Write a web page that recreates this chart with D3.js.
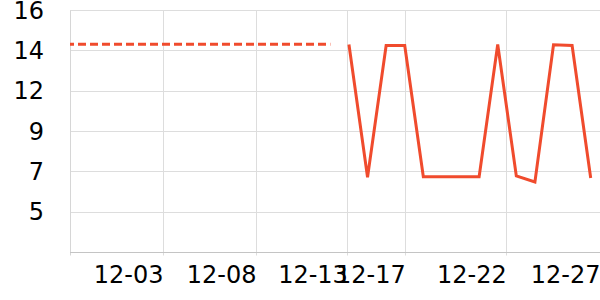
<!doctype html>
<html>
  <head>
    <style>
      body { margin: 0; background: #fff; }
      text { font-family: "DejaVu Sans", sans-serif; }
    </style>
  </head>
  <body>
    <svg width="600" height="300" id="chart"></svg>

    <script src="https://cdnjs.cloudflare.com/ajax/libs/d3/7.8.5/d3.min.js"></script>
    <script>
      // dashed reference level (first half of the period)
      const refDates = ['2023-11-28', '2023-12-12']
      const refValues = [14.13, 14.13]

      // daily series
      const dates = ['2023-12-13', '2023-12-14', '2023-12-15', '2023-12-16', '2023-12-17', '2023-12-18', '2023-12-19',
        '2023-12-20', '2023-12-21', '2023-12-22', '2023-12-23', '2023-12-24', '2023-12-25', '2023-12-26']
      const values = [14.12, 6.88, 14.06, 14.06, 6.9, 6.9, 6.9, 6.9, 14.12, 6.95, 6.62, 14.1, 14.06, 6.84]

      const xDomain = ['2023-11-28 00:00', '2023-12-26 12:00']
      const xTicks = ['2023-12-03 00:00', '2023-12-08 00:00', '2023-12-12 22:00', '2023-12-16 00:45', '2023-12-21 11:00', '2023-12-26 12:00']
      const xTickLabels = ['12-03', '12-08', '12-13', '12-17', '12-22', '12-27']
      const yDomain = [2.8, 16]
      const yTicks = [16, 13.8, 11.6, 9.4, 7.2, 5]
      const yTickLabels = ['16', '14', '12', '9', '7', '5']

      const parseDay = d3.utcParse('%Y-%m-%d')
      const parseTime = d3.utcParse('%Y-%m-%d %H:%M')

      const width = 600
      const height = 300
      const margin = {top: 10, right: 0, bottom: 48, left: 70}
      const lineColor = '#f04b2d'

      const svg = d3.select('#chart')

      const x = d3.scaleUtc()
        .domain(xDomain.map(parseTime))
        .range([margin.left, width - margin.right])
      const y = d3.scaleLinear()
        .domain(yDomain)
        .range([height - margin.bottom, margin.top])

      const crisp = v => Math.round(v) + 0.5
      const bottom = crisp(y(yDomain[0]))

      // horizontal grid
      svg.append('g')
        .selectAll('line')
        .data(yTicks)
        .join('line')
        .attr('x1', margin.left)
        .attr('x2', width)
        .attr('y1', d => crisp(y(d)))
        .attr('y2', d => crisp(y(d)))
        .style('stroke', '#dddddd')

      // vertical grid, skipping the tick at the right edge
      const xt = xTicks.map(parseTime)
      svg.append('g')
        .selectAll('line')
        .data(xt.filter(d => x(d) < width - 2))
        .join('line')
        .attr('x1', d => crisp(x(d)))
        .attr('x2', d => crisp(x(d)))
        .attr('y1', crisp(y(yDomain[1])))
        .attr('y2', bottom + 3)
        .style('stroke', '#dddddd')

      // left axis line
      svg.append('line')
        .attr('x1', crisp(margin.left))
        .attr('x2', crisp(margin.left))
        .attr('y1', crisp(y(yDomain[1])))
        .attr('y2', bottom + 3)
        .style('stroke', '#d6d6d6')

      // bottom axis line
      svg.append('line')
        .attr('x1', margin.left)
        .attr('x2', width)
        .attr('y1', bottom)
        .attr('y2', bottom)
        .style('stroke', '#c4c4c4')

      // y labels
      svg.append('g')
        .selectAll('text')
        .data(yTicks)
        .join('text')
        .attr('x', 44)
        .attr('y', d => y(d))
        .attr('dy', '0.36em')
        .style('text-anchor', 'end')
        .style('font-size', '24px')
        .style('fill', '#000')
        .text((d, i) => yTickLabels[i])

      // x labels, right-aligned on their tick
      svg.append('g')
        .selectAll('text')
        .data(xt)
        .join('text')
        .attr('x', d => x(d) + 0.5)
        .attr('y', 282.5)
        .style('text-anchor', 'end')
        .style('font-size', '24px')
        .style('fill', '#000')
        .text((d, i) => xTickLabels[i])

      const line = d3.line()
        .x(d => x(d.date))
        .y(d => y(d.value))

      const refData = refDates.map((d, i) => ({date: parseDay(d), value: refValues[i]}))
      const data = dates.map((d, i) => ({date: parseDay(d), value: values[i]}))

      svg.append('path')
        .datum(refData)
        .attr('d', line)
        .style('fill', 'none')
        .style('stroke', lineColor)
        .style('stroke-width', 3)
        .style('stroke-dasharray', '8,4')
        .style('stroke-dashoffset', 4)

      svg.append('path')
        .datum(data)
        .attr('d', line)
        .style('fill', 'none')
        .style('stroke', lineColor)
        .style('stroke-width', 3)
        .style('stroke-linejoin', 'miter')
    </script>
  </body>
</html>
